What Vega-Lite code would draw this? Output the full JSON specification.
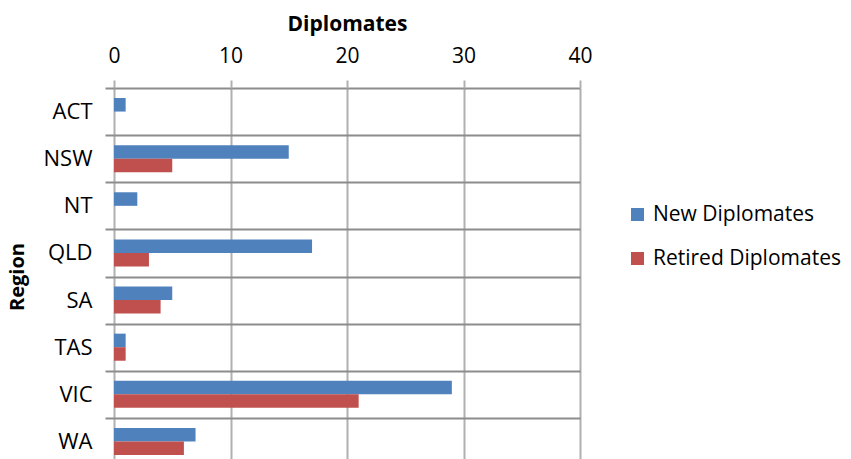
{
  "$schema": "https://vega.github.io/schema/vega-lite/v6.json",
  "autosize": "none",
  "width": 466,
  "height": 377,
  "padding": {"left": 114, "top": 88, "right": 271, "bottom": 0},
  "background": "white",
  "config": {
    "view": {"stroke": null},
    "font": "Open Sans"
  },
  "data": {
    "values": [
      {"region": "ACT", "series": "New Diplomates", "value": 1},
      {"region": "ACT", "series": "Retired Diplomates", "value": 0},
      {"region": "NSW", "series": "New Diplomates", "value": 15},
      {"region": "NSW", "series": "Retired Diplomates", "value": 5},
      {"region": "NT", "series": "New Diplomates", "value": 2},
      {"region": "NT", "series": "Retired Diplomates", "value": 0},
      {"region": "QLD", "series": "New Diplomates", "value": 17},
      {"region": "QLD", "series": "Retired Diplomates", "value": 3},
      {"region": "SA", "series": "New Diplomates", "value": 5},
      {"region": "SA", "series": "Retired Diplomates", "value": 4},
      {"region": "TAS", "series": "New Diplomates", "value": 1},
      {"region": "TAS", "series": "Retired Diplomates", "value": 1},
      {"region": "VIC", "series": "New Diplomates", "value": 29},
      {"region": "VIC", "series": "Retired Diplomates", "value": 21},
      {"region": "WA", "series": "New Diplomates", "value": 7},
      {"region": "WA", "series": "Retired Diplomates", "value": 6}
    ]
  },
  "mark": {"type": "bar"},
  "encoding": {
    "y": {
      "field": "region",
      "type": "nominal",
      "sort": ["ACT", "NSW", "NT", "QLD", "SA", "TAS", "VIC", "WA"],
      "scale": {"paddingInner": 0, "paddingOuter": 0},
      "axis": {
        "title": "Region",
        "titleFont": "Open Sans",
        "titleFontSize": 20,
        "titleFontWeight": "bold",
        "titleColor": "#000000",
        "titlePadding": 16,
        "labelFont": "Open Sans",
        "labelFontSize": 22,
        "labelColor": "#000000",
        "labelPadding": 13,
        "domain": false,
        "ticks": true,
        "tickSize": 9,
        "tickWidth": 2,
        "tickColor": "#8c8c8c",
        "tickBand": "extent",
        "grid": true,
        "gridColor": "#8c8c8c",
        "gridWidth": 2,
        "bandPosition": 0
      }
    },
    "yOffset": {
      "field": "series",
      "type": "nominal",
      "scale": {"paddingInner": 0, "paddingOuter": 0.74}
    },
    "x": {
      "field": "value",
      "type": "quantitative",
      "scale": {"domain": [0, 40], "nice": false, "zero": true},
      "axis": {
        "orient": "top",
        "title": "Diplomates",
        "titleFont": "Open Sans",
        "titleFontSize": 21,
        "titleFontWeight": "bold",
        "titleColor": "#000000",
        "titlePadding": 11,
        "values": [0, 10, 20, 30, 40],
        "labelFont": "Open Sans",
        "labelFontSize": 21,
        "labelColor": "#000000",
        "labelPadding": 14,
        "labelFlush": false,
        "domain": false,
        "ticks": true,
        "tickSize": 8,
        "tickWidth": 2,
        "tickColor": "#b0b0b0",
        "grid": true,
        "gridColor": "#b0b0b0",
        "gridWidth": 2
      }
    },
    "color": {
      "field": "series",
      "type": "nominal",
      "scale": {
        "domain": ["New Diplomates", "Retired Diplomates"],
        "range": ["#4F81BD", "#C0504D"]
      },
      "legend": {
        "title": null,
        "orient": "none",
        "legendX": 513,
        "legendY": 116,
        "symbolType": "square",
        "symbolSize": 169,
        "symbolStrokeWidth": 0,
        "labelFont": "Open Sans",
        "labelFontSize": 21,
        "labelLimit": 300,
        "labelColor": "#000000",
        "labelOffset": 5,
        "rowPadding": 22
      }
    }
  }
}
